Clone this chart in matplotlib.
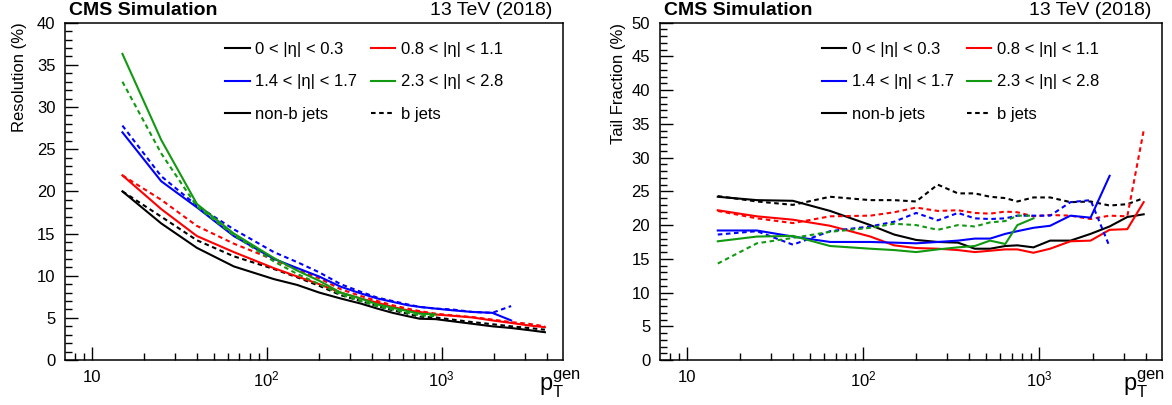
import matplotlib
matplotlib.use("Agg")
import matplotlib.pyplot as plt
from matplotlib.lines import Line2D
from matplotlib.ticker import FixedLocator, LogLocator, MultipleLocator, NullFormatter

plt.rcParams["font.family"] = ["Liberation Sans", "DejaVu Sans"]
plt.rcParams["mathtext.fontset"] = "custom"
plt.rcParams["mathtext.rm"] = "Liberation Sans"
plt.rcParams["mathtext.it"] = "Liberation Sans:italic"

# gen-level pT bin centres (GeV)
pt = [15, 25, 40, 65, 110, 150, 200, 265, 345, 430, 525, 640, 750, 925,
      1150, 1500, 1950, 2500, 3150, 3900]

# resolution (%) per |eta| bin, non-b and b jets
res_eta0_nonb = [20.0, 16.2, 13.3, 11.1, 9.6, 8.9, 8.0, 7.3, 6.7, 6.1, 5.6, 5.2, 4.9, 4.85,
                 4.6, 4.3, 4.0, 3.8, 3.55, 3.3]
res_eta0_b = [20.0, 17.0, 14.2, 12.3, 10.8, 9.8, 8.8, 7.7, 7.0, 6.4, 5.9, 5.5, 5.15, 5.05,
              4.8, 4.5, 4.25, 4.0, 3.8, 3.6]
res_eta1_nonb = [21.9, 17.9, 14.7, 12.8, 10.9, 9.9, 9.0, 8.0, 7.3, 6.8, 6.3, 5.9, 5.7, 5.4,
                 5.25, 5.05, 4.7, 4.4, 4.1, 3.9]
res_eta1_b = [21.9, 19.0, 15.9, 13.8, 11.9, 10.7, 9.7, 8.4, 7.6, 7.0, 6.5, 6.1, 5.8, 5.5,
              5.3, 5.1, 4.8, 4.5, 4.3, 4.0]
res_eta2_nonb = [27.0, 21.2, 18.1, 14.7, 12.0, 10.9, 9.9, 8.7, 7.9, 7.3, 6.9, 6.5, 6.3, 6.1,
                 5.9, 5.7, 5.6, 4.7]
res_eta2_b = [27.8, 21.8, 18.3, 15.5, 12.8, 11.6, 10.4, 9.0, 8.1, 7.4, 7.0, 6.6, 6.3, 6.1,
              6.0, 5.7, 5.6, 6.4]
res_eta3_nonb = [36.3, 26.1, 18.5, 15.0, 12.1, 10.6, 9.4, 8.0, 7.3, 6.6, 6.2, 5.8, 5.5, 5.4]
res_eta3_b = [33.0, 24.5, 18.2, 14.8, 11.7, 10.2, 9.0, 7.8, 7.0, 6.4, 6.0, 5.6, 5.3, 5.2]

# tail fraction (%)
tail_eta0_nonb = [24.2, 23.7, 23.6, 22.1, 20.0, 18.6, 17.8, 17.5, 17.4, 16.5, 16.5, 16.9, 17.0,
                  16.7, 17.7, 17.7, 18.7, 19.8, 21.2, 21.6]
tail_eta0_b = [24.3, 23.5, 23.0, 24.2, 23.7, 23.7, 23.5, 26.0, 24.7, 24.7, 24.2, 24.0, 23.5,
               24.1, 24.1, 23.4, 23.5, 22.9, 23.1, 24.0]
tail_eta1_nonb = [22.2, 21.3, 20.8, 19.9, 18.3, 17.0, 16.6, 16.5, 16.3, 16.0, 16.2, 16.4, 16.4,
                  15.9, 16.5, 17.6, 17.7, 19.3, 19.4, 23.4]
tail_eta1_b = [22.1, 21.0, 20.3, 21.3, 21.4, 21.9, 22.6, 22.1, 22.2, 21.8, 21.7, 22.0, 21.9,
               21.3, 21.5, 21.4, 20.9, 21.4, 21.3, 34.0]
tail_eta2_nonb = [19.2, 19.2, 18.3, 17.5, 17.5, 17.4, 17.3, 17.5, 17.7, 18.0, 18.0, 18.7, 19.1,
                  19.6, 19.9, 21.4, 21.1, 27.3]
tail_eta2_b = [18.6, 19.1, 17.1, 19.1, 19.8, 20.5, 21.8, 20.7, 21.8, 21.0, 20.9, 21.0, 21.4,
               21.4, 21.4, 23.4, 23.7, 16.8]
tail_eta3_nonb = [17.6, 18.3, 18.4, 16.9, 16.5, 16.3, 16.0, 16.4, 16.7, 16.9, 17.7, 17.2, 20.0, 21.0]
tail_eta3_b = [14.3, 17.3, 18.1, 19.0, 19.6, 20.2, 20.0, 19.3, 20.0, 19.8, 20.4, 20.6, 21.4, 21.4]

eta_labels = ["0 < |η| < 0.3", "0.8 < |η| < 1.1", "1.4 < |η| < 1.7", "2.3 < |η| < 2.8"]
colors = ["black", "#ff0000", "#0000ff", "#119911"]
dash = (0, (2.2, 1.7))
lw = 1.5

fig = plt.figure(figsize=(11.72, 4.05), dpi=100)
ax1 = fig.add_axes([0.0555, 0.111, 0.4249, 0.833])
ax2 = fig.add_axes([0.5631, 0.111, 0.4283, 0.833])

res_sets = [(res_eta0_nonb, res_eta0_b), (res_eta1_nonb, res_eta1_b),
            (res_eta2_nonb, res_eta2_b), (res_eta3_nonb, res_eta3_b)]
tail_sets = [(tail_eta0_nonb, tail_eta0_b), (tail_eta1_nonb, tail_eta1_b),
             (tail_eta2_nonb, tail_eta2_b), (tail_eta3_nonb, tail_eta3_b)]

for (nonb, b), c in zip(res_sets, colors):
    ax1.plot(pt[:len(nonb)], nonb, color=c, lw=lw)
    ax1.plot(pt[:len(b)], b, color=c, lw=lw, linestyle=dash)
for (nonb, b), c in zip(tail_sets, colors):
    ax2.plot(pt[:len(nonb)], nonb, color=c, lw=lw)
    ax2.plot(pt[:len(b)], b, color=c, lw=lw, linestyle=dash)

handles = [Line2D([], [], color=c, lw=lw) for c in colors]
h_nonb = Line2D([], [], color="black", lw=lw)
h_b = Line2D([], [], color="black", lw=lw, linestyle=dash)
# legend fills by column, so order entries for 2 columns x 3 rows
leg_h = [handles[0], handles[2], h_nonb, handles[1], handles[3], h_b]
leg_l = [eta_labels[0], eta_labels[2], "non-b jets", eta_labels[1], eta_labels[3], "b jets"]

for ax, ymax, ylab, lx, xlx in [(ax1, 40, "Resolution (%)", -0.076, 1.036),
                                (ax2, 50, "Tail Fraction (%)", -0.067, 1.006)]:
    ax.set_xscale("log")
    ax.set_xlim(7.05, 4950)
    ax.set_ylim(0, ymax)
    ax.xaxis.set_major_locator(FixedLocator([10, 100, 1000]))
    ax.set_xticklabels(["10", "$\\mathregular{10^{2}}$", "$\\mathregular{10^{3}}$"])
    ax.xaxis.set_minor_locator(LogLocator(base=10, subs=range(2, 10)))
    ax.xaxis.set_minor_formatter(NullFormatter())
    ax.yaxis.set_major_locator(MultipleLocator(5))
    ax.yaxis.set_minor_locator(MultipleLocator(1))
    ax.tick_params(which="both", direction="in", top=False, right=False,
                   labelsize=12, pad=7)
    ax.tick_params(which="major", length=9.5, width=1)
    ax.tick_params(which="minor", length=5, width=1)
    for s in ax.spines.values():
        s.set_linewidth(1.1)
    ax.set_ylabel(ylab, fontsize=12, loc="top")
    ax.yaxis.set_label_coords(lx, 1.0)
    ax.set_xlabel("$\\mathregular{p_{T}^{gen}}$", fontsize=17, loc="right")
    ax.xaxis.set_label_coords(xlx, -0.025)
    ax.text(0.008, 1.012, "CMS Simulation", transform=ax.transAxes,
            fontsize=14, fontweight="bold", ha="left", va="bottom")
    ax.text(0.978, 1.012, "13 TeV (2018)", transform=ax.transAxes,
            fontsize=14, ha="right", va="bottom")
    ax.legend(leg_h, leg_l, ncol=2, loc="upper left", bbox_to_anchor=(0.322, 0.944),
              frameon=False, fontsize=12, handlelength=1.45, handletextpad=0.35,
              columnspacing=0.8, labelspacing=1.07, borderpad=0, borderaxespad=0)

plt.savefig("out.png", dpi=100)
